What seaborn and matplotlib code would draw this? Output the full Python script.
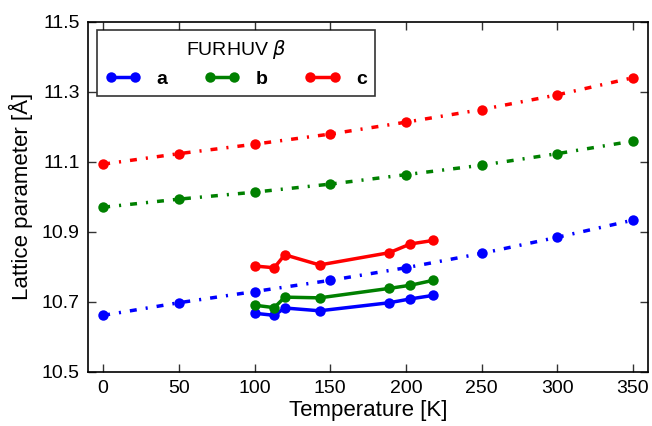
import matplotlib
matplotlib.use("Agg")
import matplotlib.pyplot as plt
import seaborn as sns
import pandas as pd
from matplotlib.lines import Line2D

# Calculated (dotted) series
T_calc = [0, 50, 100, 150, 200, 250, 300, 350]
a_calc = [10.661, 10.697, 10.729, 10.761, 10.797, 10.838, 10.884, 10.933]
b_calc = [10.970, 10.993, 11.013, 11.036, 11.063, 11.090, 11.123, 11.159]
c_calc = [11.093, 11.123, 11.150, 11.179, 11.213, 11.249, 11.291, 11.340]

# Experimental (solid) series
T_exp = [100, 113, 120, 143, 189, 203, 218]
a_exp = [10.667, 10.661, 10.682, 10.674, 10.697, 10.708, 10.718]
b_exp = [10.690, 10.683, 10.713, 10.711, 10.738, 10.747, 10.761]
c_exp = [10.802, 10.797, 10.834, 10.805, 10.840, 10.865, 10.875]

labels = ["a", "b", "c"]
colors = ["blue", "green", "red"]

sns.set_style("ticks")
plt.rcParams["font.family"] = ["Liberation Sans", "DejaVu Sans"]
plt.rcParams["mathtext.fontset"] = "dejavusans"
plt.rcParams["text.color"] = "black"
plt.rcParams["axes.labelcolor"] = "black"
plt.rcParams["xtick.color"] = "black"
plt.rcParams["ytick.color"] = "black"

fig = plt.figure(figsize=(6.52, 4.26), dpi=100)
ax = fig.add_axes([0.135, 0.1275, 0.859, 0.8215])

calc = [a_calc, b_calc, c_calc]
exp = [a_exp, b_exp, c_exp]
for lab, col, yc, ye in zip(labels, colors, calc, exp):
    dfc = pd.DataFrame({"T": T_calc, "v": yc})
    sns.lineplot(data=dfc, x="T", y="v", ax=ax, color=col, linestyle="-.",
                 linewidth=2.5, marker="o", markersize=7.5, markeredgewidth=0,
                 legend=False)
    dfe = pd.DataFrame({"T": T_exp, "v": ye})
    sns.lineplot(data=dfe, x="T", y="v", ax=ax, color=col, linestyle="-",
                 linewidth=2.5, marker="o", markersize=7.5, markeredgewidth=0,
                 legend=False)

# dash-dot pattern on the calculated lines
for ln in ax.get_lines():
    if ln.get_linestyle() != "-":
        ln.set_dashes((2.0, 2.6, 0.6, 2.6))

ax.set_xlim(-10, 360)
ax.set_ylim(10.5, 11.5)
ax.set_xticks([0, 50, 100, 150, 200, 250, 300, 350])
ax.set_yticks([10.5, 10.7, 10.9, 11.1, 11.3, 11.5])
ax.set_yticklabels(["10.5", "10.7", "10.9", "11.1", "11.3", "11.5"])
ax.tick_params(direction="in", top=True, right=True, labelsize=14,
               length=6, width=1, color="#333333", pad=6)
for s in ax.spines.values():
    s.set_linewidth(1.2)
    s.set_color("black")
ax.set_xlabel("Temperature [K]", fontsize=16, labelpad=2)
ax.set_ylabel("Lattice parameter [Å]", fontsize=16, labelpad=6)

handles = [Line2D([0], [0], color=c, linewidth=2.5, marker="o", markersize=7.5,
                  markeredgewidth=0) for c in colors]
leg = ax.legend(handles, labels, title="FURHUV $\\beta$", ncol=3,
                loc="upper left", numpoints=2, frameon=True, fancybox=False,
                edgecolor="black", title_fontsize=14,
                prop={"weight": "bold", "size": 14},
                handlelength=1.85, handletextpad=0.8, columnspacing=1.9,
                borderpad=0.4, borderaxespad=0,
                bbox_to_anchor=(0.016, 0.977))
leg.get_frame().set_linewidth(1.2)

fig.savefig("out.png", dpi=100)
